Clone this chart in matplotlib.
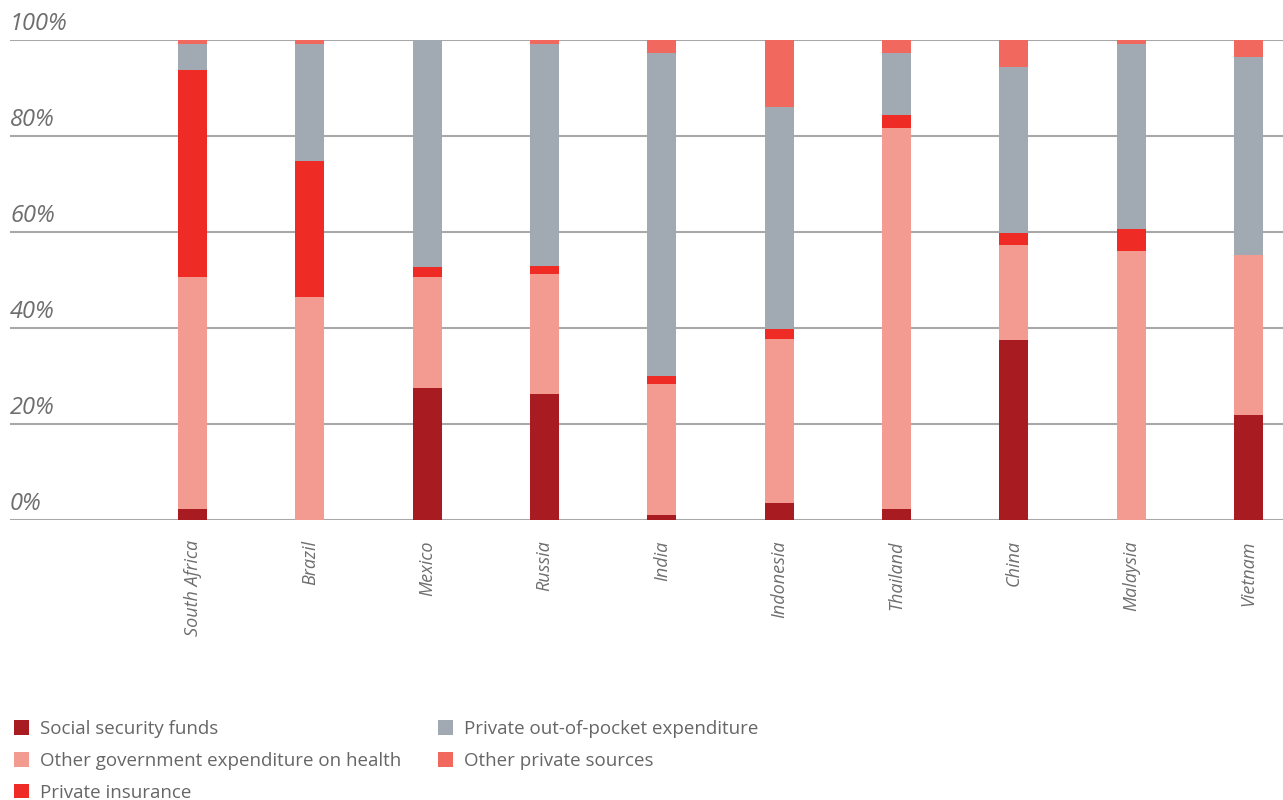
import numpy as np
import matplotlib.pyplot as plt
from matplotlib import transforms

plt.rcParams['font.family'] = ['Open Sans', 'DejaVu Sans']

countries = ['South Africa', 'Brazil', 'Mexico', 'Russia', 'India',
             'Indonesia', 'Thailand', 'China', 'Malaysia', 'Vietnam']

# share of total health expenditure, %
social_security = [2.1, 0.0, 27.5, 26.2, 1.0, 3.5, 2.1, 37.5, 0.0, 21.7]
other_government = [48.5, 46.5, 23.1, 25.1, 27.3, 34.2, 79.6, 19.8, 55.9, 33.4]
private_insurance = [43.1, 28.2, 2.1, 1.5, 1.7, 2.1, 2.6, 2.4, 4.6, 0.0]
out_of_pocket = [5.4, 24.4, 47.3, 46.3, 67.2, 46.3, 12.9, 34.6, 38.6, 41.4]
other_private = [0.9, 0.9, 0.0, 0.9, 2.8, 13.9, 2.8, 5.7, 0.9, 3.5]

series = [
    ('Social security funds', social_security, '#a81c21'),
    ('Other government expenditure on health', other_government, '#f39a91'),
    ('Private insurance', private_insurance, '#ee2b24'),
    ('Private out-of-pocket expenditure', out_of_pocket, '#a1aab2'),
    ('Other private sources', other_private, '#f1695e'),
]

text_grey = '#6e6e6e'
grid_grey = '#a8a8a8'

fig = plt.figure(figsize=(12.83, 8.0), dpi=100)
ax = fig.add_axes([10 / 1283, 1 - 519.5 / 800, 1 - 10 / 1283, (519.5 - 40) / 800])

x = np.arange(len(countries))
bottom = np.zeros(len(countries))
for name, vals, col in series:
    ax.bar(x, vals, width=0.247, bottom=bottom, color=col, label=name,
           zorder=3, linewidth=0)
    bottom += np.array(vals)

ax.set_xlim(-1.556, 9.294)
ax.set_ylim(0, 100)

yt = [0, 20, 40, 60, 80, 100]
ax.set_yticks(yt)
ax.grid(axis='y', color=grid_grey, linewidth=1.5, zorder=0)
ax.tick_params(axis='y', length=0, labelleft=False)
for s in ax.spines.values():
    s.set_visible(False)

# y labels sit above their gridlines at the left edge
trans = transforms.blended_transform_factory(ax.transAxes, ax.transData)
offset = transforms.offset_copy(trans, fig=fig, x=0, y=10, units='dots')
for v in yt:
    ax.text(0, v, f'{v}%', transform=offset, ha='left', va='baseline',
            fontsize=17, style='italic', color=text_grey)

ax.set_xticks(x)
ax.set_xticklabels(countries, rotation=90, ha='center', va='top',
                   fontsize=13, style='italic', color=text_grey)
ax.tick_params(axis='x', length=0, pad=15)

handles, labels = ax.get_legend_handles_labels()
leg = fig.legend(handles, labels, ncol=2, frameon=False,
                 loc='upper left', bbox_to_anchor=(14 / 1283, 1 - 720 / 800),
                 borderpad=0, borderaxespad=0, fontsize=13.5,
                 handlelength=0.8, handleheight=0.8, handletextpad=0.6,
                 labelspacing=0.74, columnspacing=1.93)
for t in leg.get_texts():
    t.set_color('#666666')

fig.savefig('out.png', dpi=100)
